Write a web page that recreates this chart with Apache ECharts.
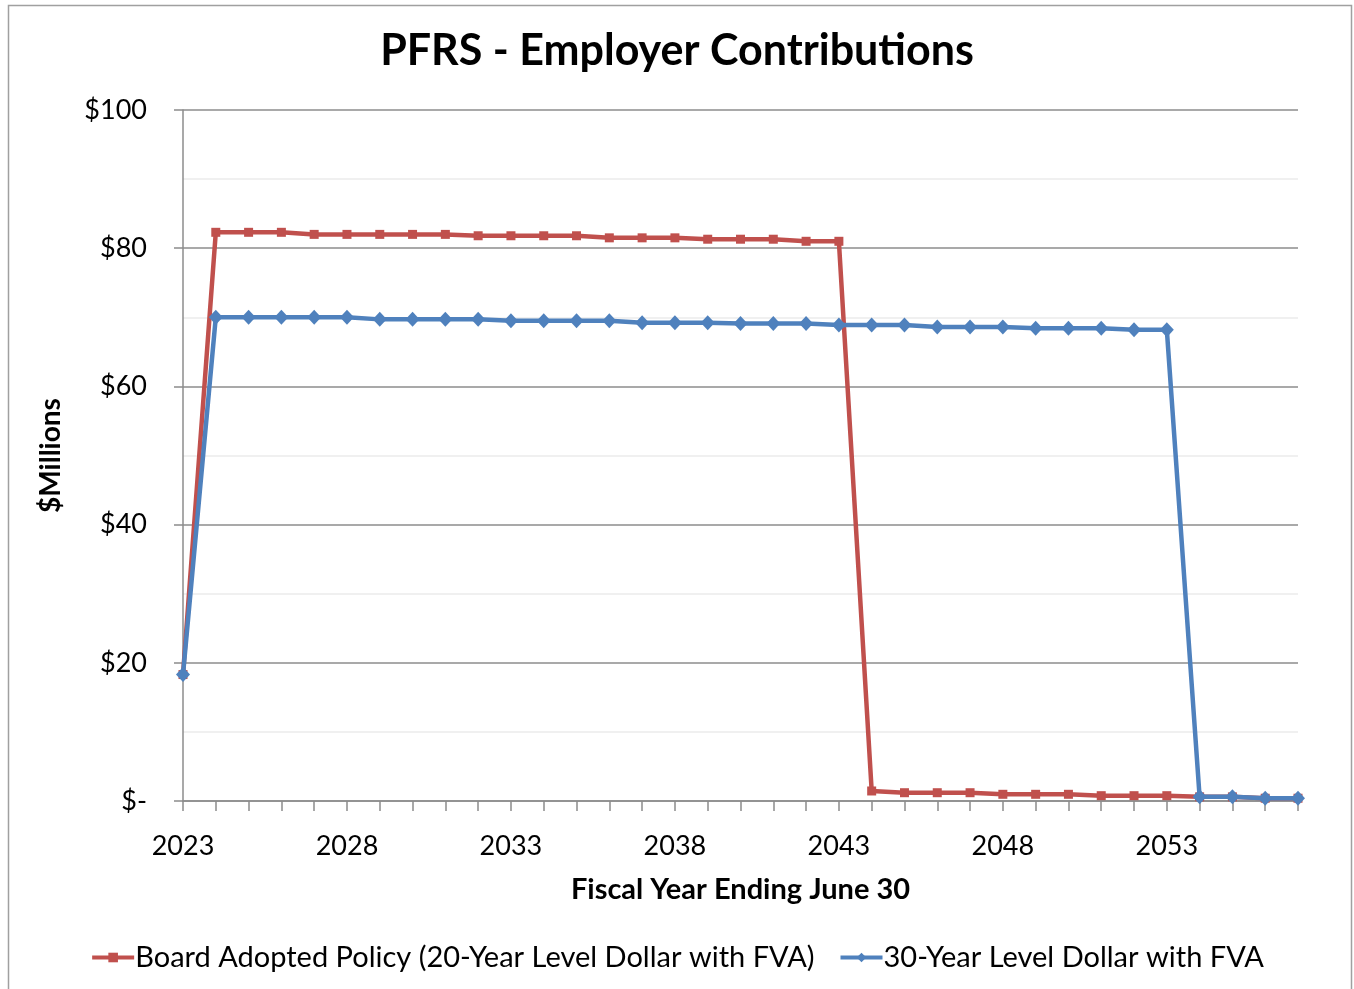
<!DOCTYPE html>
<html><head><meta charset="utf-8">
<script src="https://cdn.jsdelivr.net/npm/echarts@6/dist/echarts.min.js"></script>
<style>html,body{margin:0;padding:0;background:#fff}#c{width:1354px;height:989px}</style>
</head><body><div id="c"></div>
<script>
const years = [];
for (let y = 2023; y <= 2057; y++) years.push(String(y));
const boardPolicy = [18.3,
  82.3, 82.3, 82.3,
  82.0, 82.0, 82.0, 82.0, 82.0,
  81.8, 81.8, 81.8, 81.8,
  81.5, 81.5, 81.5,
  81.3, 81.3, 81.3,
  81.0, 81.0,
  1.45, 1.2, 1.2, 1.2, 0.97, 0.97, 0.97, 0.77, 0.77, 0.77,
  0.6, 0.6, 0.4, 0.4];
const thirtyYear = [18.3,
  70.0, 70.0, 70.0, 70.0, 70.0,
  69.7, 69.7, 69.7, 69.7,
  69.5, 69.5, 69.5, 69.5,
  69.2, 69.2, 69.2,
  69.1, 69.1, 69.1,
  68.9, 68.9, 68.9,
  68.6, 68.6, 68.6,
  68.4, 68.4, 68.4,
  68.2, 68.2,
  0.6, 0.6, 0.4, 0.4];
const yTicks = {0:'$-',20:'$20',40:'$40',60:'$60',80:'$80',100:'$100'};
const seriesNames = ['Board Adopted Policy (20-Year Level Dollar with FVA)','30-Year Level Dollar with FVA'];

const FONT = 'Lato';
const chart = echarts.init(document.getElementById('c'));
chart.setOption({
  animation:false,
  backgroundColor:'#fff',
  textStyle:{fontFamily:FONT,color:'#000'},
  graphic:[{type:'rect',shape:{x:8.5,y:5.5,width:1343,height:1000},style:{fill:'none',stroke:'#a0a0a0',lineWidth:1.5},silent:true}],
  title:{text:'PFRS - Employer Contributions',left:'center',top:25,
    textStyle:{fontFamily:FONT,fontSize:43,fontWeight:'bold',color:'#000'}},
  grid:{left:183,right:56,top:110,bottom:188,containLabel:false},
  legend:{bottom:12,left:'center',itemWidth:42,itemHeight:12,itemGap:24,
    lineStyle:{width:4},
    textStyle:{fontFamily:FONT,fontSize:29,color:'#000',padding:[0,0,0,-4]},
    data:seriesNames},
  xAxis:{type:'category',data:years,boundaryGap:false,
    name:'Fiscal Year Ending June 30',nameLocation:'middle',nameGap:74,
    nameTextStyle:{fontFamily:FONT,fontSize:29,fontWeight:'bold',color:'#000'},
    axisLine:{lineStyle:{color:'#8c8c8c',width:1.5}},
    axisTick:{show:true,interval:0,length:10,lineStyle:{color:'#8c8c8c',width:1.5}},
    axisLabel:{interval:4,margin:32,fontSize:27,color:'#000',fontFamily:FONT},
    splitLine:{show:false}},
  yAxis:{type:'value',min:0,max:100,interval:20,
    name:'$Millions',nameLocation:'middle',nameGap:118,nameRotate:90,
    nameTextStyle:{fontFamily:FONT,fontSize:28,fontWeight:'bold',color:'#000'},
    axisLine:{show:true,lineStyle:{color:'#8c8c8c',width:1.5}},
    axisTick:{show:true,length:9,lineStyle:{color:'#8c8c8c',width:1.5}},
    axisLabel:{margin:36,fontSize:27,color:'#000',fontFamily:FONT,
      formatter:v=>yTicks[v]!==undefined?yTicks[v]:''},
    splitLine:{show:true,lineStyle:{color:'#8c8c8c',width:1.5}},
    minorTick:{show:false,splitNumber:2},
    minorSplitLine:{show:true,lineStyle:{color:'#ececec',width:1.5}}},
  series:[
    {name:seriesNames[0],type:'line',data:boardPolicy,symbol:'rect',symbolSize:9,
      lineStyle:{color:'#c0504d',width:4.5},itemStyle:{color:'#c0504d'},z:2},
    {name:seriesNames[1],type:'line',data:thirtyYear,symbol:'diamond',symbolSize:[14,15],
      lineStyle:{color:'#4f81bd',width:4.5},itemStyle:{color:'#4f81bd'},z:3}
  ]
});
</script></body></html>
